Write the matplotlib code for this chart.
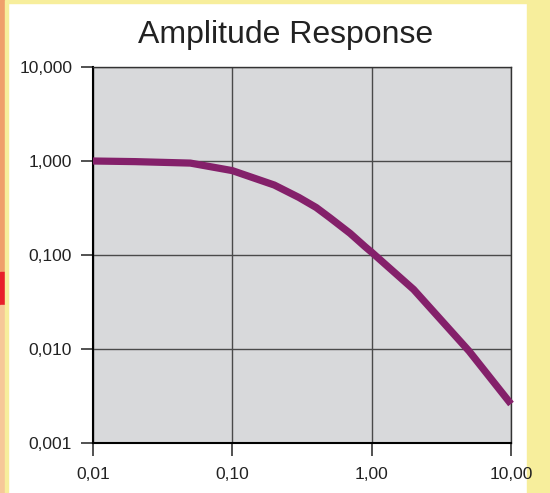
import matplotlib
matplotlib.use("Agg")
import matplotlib.pyplot as plt
from matplotlib.patches import Rectangle
from matplotlib.ticker import FixedLocator, FuncFormatter, NullLocator

# Data
freq = [0.01, 0.02, 0.05, 0.1, 0.2, 0.3, 0.4, 0.5, 0.7, 0.9, 1.0, 2.0, 5.0, 10.0]
amplitude = [1.0, 0.985, 0.95, 0.79, 0.555, 0.41, 0.32, 0.25, 0.17, 0.122, 0.107,
             0.043, 0.0095, 0.0026]
x_ticks = [0.01, 0.1, 1, 10]
y_ticks = [0.001, 0.01, 0.1, 1, 10]
title = "Amplitude Response"

plt.rcParams['font.family'] = ['Liberation Sans', 'DejaVu Sans']

fig = plt.figure(figsize=(5.5, 4.93), dpi=100)
fig.patch.set_facecolor('white')

# decorative borders of the screenshot
W, H = 550, 493
def rect(x0, y0, w, h, c):
    fig.patches.append(Rectangle((x0 / W, 1 - (y0 + h) / H), w / W, h / H,
                                 transform=fig.transFigure, color=c, zorder=-1))
rect(0, 0, 550, 3, '#F7EE9C')
rect(527, 0, 23, 493, '#F7EE9C')
rect(0, 0, 5, 272, '#EF9F6B')
rect(0, 272, 5, 33, '#E8202A')
rect(0, 305, 5, 188, '#F6C898')
rect(5, 0, 3, 493, '#F7EE9C')

ax = fig.add_axes([93 / W, 1 - 443 / H, (511 - 93) / W, (443 - 67) / H])
ax.set_facecolor('#D8D9DB')
ax.set_xscale('log')
ax.set_yscale('log')
ax.set_xlim(0.01, 10)
ax.set_ylim(0.001, 10)

ax.plot(freq, amplitude, color='#84206A', lw=5.2, solid_joinstyle='miter',
        solid_capstyle='butt', zorder=3, clip_on=False)

ax.xaxis.set_major_locator(FixedLocator(x_ticks))
ax.yaxis.set_major_locator(FixedLocator(y_ticks))
ax.xaxis.set_minor_locator(NullLocator())
ax.yaxis.set_minor_locator(NullLocator())
ax.xaxis.set_major_formatter(FuncFormatter(lambda v, p: f"{v:.2f}".replace('.', ',')))
ax.yaxis.set_major_formatter(FuncFormatter(lambda v, p: f"{v:,.3f}".replace('.', ',')))

ax.grid(True, which='major', color='#4a4a4a', lw=1.0)
ax.set_axisbelow(True)
for s in ax.spines.values():
    s.set_color('#333333')
    s.set_linewidth(1.0)
ax.spines['left'].set_linewidth(1.5)
ax.spines['bottom'].set_linewidth(1.5)
ax.spines['left'].set_color('black')
ax.spines['bottom'].set_color('black')

ax.tick_params(axis='both', which='major', direction='out', length=9, width=1.2,
               color='#333333', labelsize=12.5, labelcolor='#222222', pad=6)
ax.tick_params(axis='x', pad=8)

fig.text(286 / W, 1 - 43 / H, title, ha='center', va='baseline',
         fontsize=23, color='#222222')

fig.savefig('out.png', dpi=100)
